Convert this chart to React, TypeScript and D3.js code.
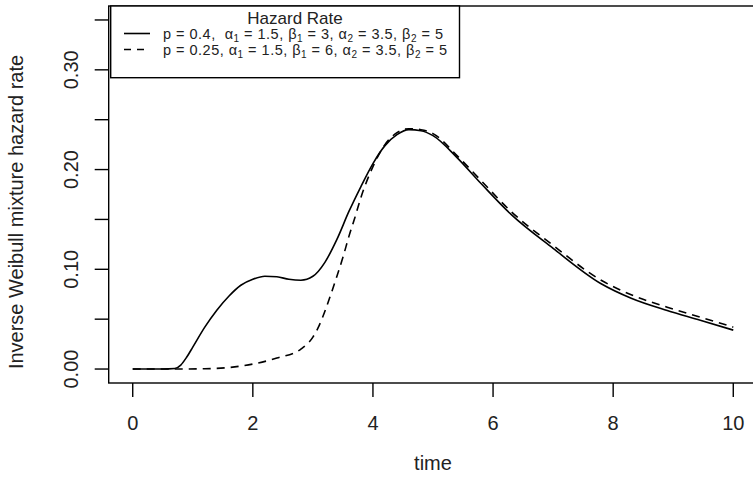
import React from "react";
import * as d3 from "d3";

const solidT = [0, 0.5, 0.7, 0.8, 0.9, 1.0, 1.2, 1.4, 1.6, 1.8, 2.0, 2.2, 2.4, 2.6, 2.8, 3.0, 3.2, 3.4, 3.6, 3.8, 4.0, 4.2, 4.4, 4.6, 4.8, 5.0, 5.4, 5.8, 6.3, 7.0, 7.8, 8.3, 8.9, 9.45, 10];
const solidH = [0, 0, 0.0005, 0.004, 0.012, 0.022, 0.042, 0.059, 0.073, 0.084, 0.090, 0.093, 0.0925, 0.090, 0.089, 0.093, 0.107, 0.130, 0.158, 0.183, 0.206, 0.224, 0.235, 0.240, 0.239, 0.234, 0.212, 0.186, 0.155, 0.121, 0.0855, 0.071, 0.0587, 0.049, 0.039];

const dashT = [0, 0.8, 1.2, 1.6, 2.0, 2.4, 2.8, 3.0, 3.1, 3.2, 3.3, 3.4, 3.5, 3.6, 3.7, 3.8, 4.0, 4.2, 4.4, 4.6, 4.8, 5.0, 5.4, 5.8, 6.3, 7.0, 7.8, 8.3, 8.9, 9.45, 10];
const dashH = [0, 0, 0.0003, 0.0015, 0.005, 0.011, 0.02, 0.032, 0.043, 0.058, 0.075, 0.093, 0.112, 0.133, 0.152, 0.172, 0.203, 0.225, 0.237, 0.241, 0.240, 0.236, 0.214, 0.189, 0.158, 0.124, 0.089, 0.0745, 0.062, 0.052, 0.042];

const xTicks = [0, 2, 4, 6, 8, 10];
const yTicks = [0, 0.05, 0.1, 0.15, 0.2, 0.25, 0.3, 0.35];
const yLabelTicks = [0, 0.1, 0.2, 0.3];

const legendTitle = "Hazard Rate";
const legendP = ["0.4", "0.25"];
const legendA1 = ["1.5", "1.5"];
const legendB1 = ["3", "6"];
const legendA2 = ["3.5", "3.5"];
const legendB2 = ["5", "5"];
const legendDash = ["none", "7,6"];
const legendWidths = [280, 284];

const FONT = "'Liberation Sans', Arial, Helvetica, sans-serif";

export default function App() {
  const x = d3.scaleLinear().domain([-0.4, 10.4]).range([108.7, 757.3]);
  const y = d3.scaleLinear().domain([-0.014, 0.364]).range([383, 6]);

  const line = d3
    .line<[number, number]>()
    .x((d) => x(d[0]))
    .y((d) => y(d[1]))
    .curve(d3.curveMonotoneX);

  const solid = solidT.map((t, i) => [t, solidH[i]] as [number, number]);
  const dashed = dashT.map((t, i) => [t, dashH[i]] as [number, number]);

  const boxL = x(-0.4);
  const boxR = x(10.4);
  const boxT = y(0.364);
  const boxB = y(-0.014);

  return (
    <svg
      width={753}
      height={488}
      style={{ position: "absolute", left: 0, top: 0, background: "#fff" }}
      fontFamily={FONT}
    >
      <rect x={0} y={0} width={753} height={488} fill="#fff" />
      <path d={line(solid) || ""} fill="none" stroke="#000" strokeWidth={1.6} />
      <path d={line(dashed) || ""} fill="none" stroke="#000" strokeWidth={1.6} strokeDasharray="8,6" />

      <rect x={boxL} y={boxT} width={boxR - boxL} height={boxB - boxT} fill="none" stroke="#000" strokeWidth={1.4} />

      {xTicks.map((t) => (
        <g key={"x" + t}>
          <line x1={x(t)} x2={x(t)} y1={boxB} y2={boxB + 14} stroke="#000" strokeWidth={1.4} />
          <text x={x(t)} y={430} textAnchor="middle" fontSize={20} fill="#222">
            {t}
          </text>
        </g>
      ))}
      {yTicks.map((v) => (
        <line key={"y" + v} x1={boxL - 14} x2={boxL} y1={y(v)} y2={y(v)} stroke="#000" strokeWidth={1.4} />
      ))}
      {yLabelTicks.map((v) => (
        <text
          key={"yl" + v}
          transform={`translate(78,${y(v)}) rotate(-90)`}
          textAnchor="middle"
          fontSize={20}
          fill="#222"
        >
          {d3.format(".2f")(v)}
        </text>
      ))}

      <text x={433} y={470} textAnchor="middle" fontSize={20} fill="#222">
        time
      </text>
      <text transform={`translate(23,212) rotate(-90)`} textAnchor="middle" fontSize={20} fill="#222">
        Inverse Weibull mixture hazard rate
      </text>

      <rect x={110.7} y={6} width={348.8} height={71.7} fill="#fff" stroke="#000" strokeWidth={1.4} />
      <text x={295} y={24} textAnchor="middle" fontSize={17} fill="#222">
        {legendTitle}
      </text>
      {legendP.map((p, i) => {
        const cy = 33.5 + i * 16;
        return (
          <g key={"leg" + i}>
            <line
              x1={124}
              x2={150}
              y1={cy}
              y2={cy}
              stroke="#000"
              strokeWidth={1.6}
              strokeDasharray={legendDash[i] === "none" ? undefined : legendDash[i]}
            />
            <text
              x={163}
              y={cy + 5}
              fontSize={14.5}
              fill="#222"
              textLength={legendWidths[i]}
              lengthAdjust="spacing"
            >
              <tspan>{`p = ${p},${i === 0 ? "\u00a0\u00a0" : " "}α`}</tspan>
              <tspan dy={3} fontSize={10}>1</tspan>
              <tspan dy={-3}>{` = ${legendA1[i]}, β`}</tspan>
              <tspan dy={3} fontSize={10}>1</tspan>
              <tspan dy={-3}>{` = ${legendB1[i]}, α`}</tspan>
              <tspan dy={3} fontSize={10}>2</tspan>
              <tspan dy={-3}>{` = ${legendA2[i]}, β`}</tspan>
              <tspan dy={3} fontSize={10}>2</tspan>
              <tspan dy={-3}>{` = ${legendB2[i]}`}</tspan>
            </text>
          </g>
        );
      })}
    </svg>
  );
}
